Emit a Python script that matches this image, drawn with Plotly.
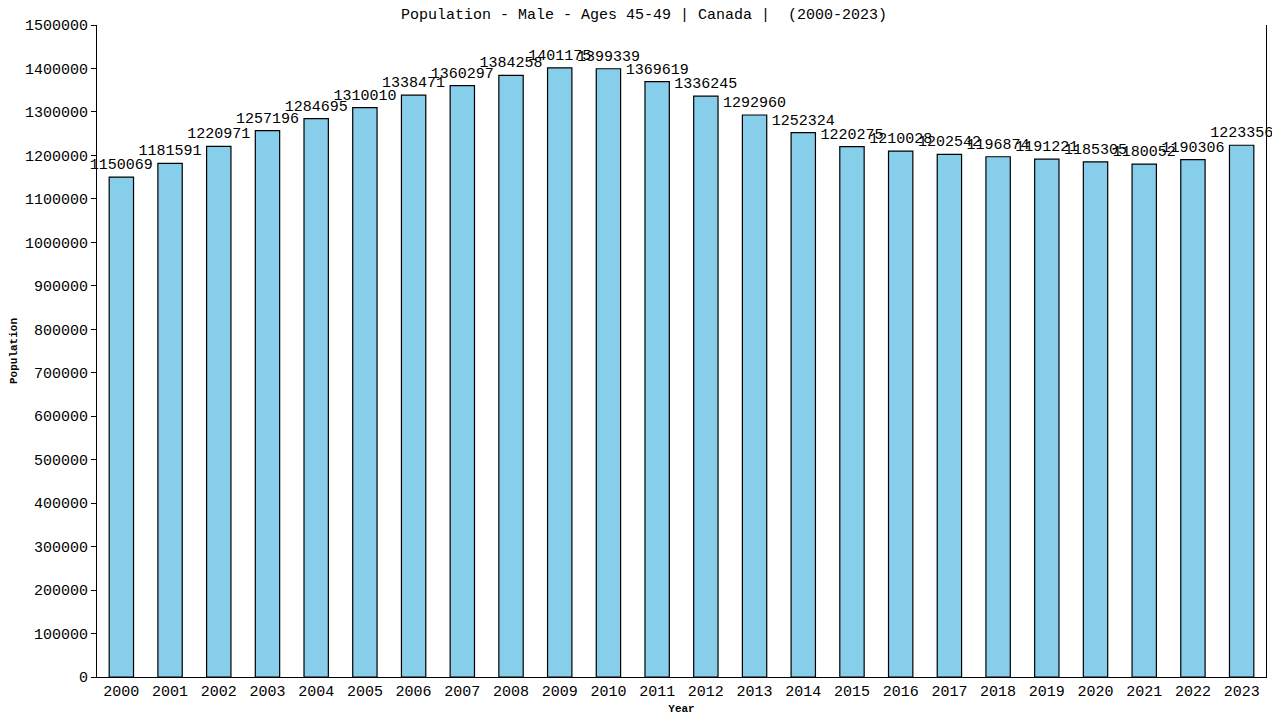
import plotly.graph_objects as go

years = [str(y) for y in range(2000, 2024)]
population = [1150069, 1181591, 1220971, 1257196, 1284695, 1310010, 1338471, 1360297,
              1384258, 1401175, 1399339, 1369619, 1336245, 1292960, 1252324, 1220275,
              1210028, 1202542, 1196874, 1191221, 1185305, 1180052, 1190306, 1223356]
y_ticks = list(range(0, 1500001, 100000))

FONT = "Liberation Mono"

fig = go.Figure(go.Bar(
    x=years, y=population,
    marker=dict(color="#87CEEB", line=dict(color="black", width=1.2)),
    text=[str(v) for v in population],
    textposition="outside",
    constraintext="none",
    cliponaxis=False,
    textfont=dict(family=FONT, size=15, color="black"),
))

W, H = 1272, 712
fig.update_layout(
    width=W, height=H,
    paper_bgcolor="white", plot_bgcolor="white",
    margin=dict(l=89, r=14, t=17, b=43, autoexpand=False),
    bargap=0.5,
    showlegend=False,
    title=dict(text="Population - Male - Ages 45-49 | Canada |  (2000-2023)",
               x=0.5, xanchor="center", y=1 - 6/H, yanchor="middle",
               font=dict(family=FONT, size=15, color="black")),
    xaxis=dict(
        automargin=False,
        showline=True, linecolor="black", linewidth=1,
        ticks="", showgrid=False,
        tickfont=dict(family=FONT, size=15, color="black"),
        title=dict(text="<b>Year</b>", font=dict(family=FONT, size=11, color="black"), standoff=4),
    ),
    yaxis=dict(
        automargin=False,
        range=[0, 1500000],
        tickvals=y_ticks, ticktext=[str(v) for v in y_ticks],
        showline=True, linecolor="black", linewidth=1, mirror=True,
        ticks="outside", ticklen=5, tickcolor="black",
        showgrid=False, zeroline=False,
        tickfont=dict(family=FONT, size=15, color="black"),
        title=dict(text="<b>Population</b>", font=dict(family=FONT, size=11, color="black"), standoff=5),
    ),
)

fig.write_html("out.html")
